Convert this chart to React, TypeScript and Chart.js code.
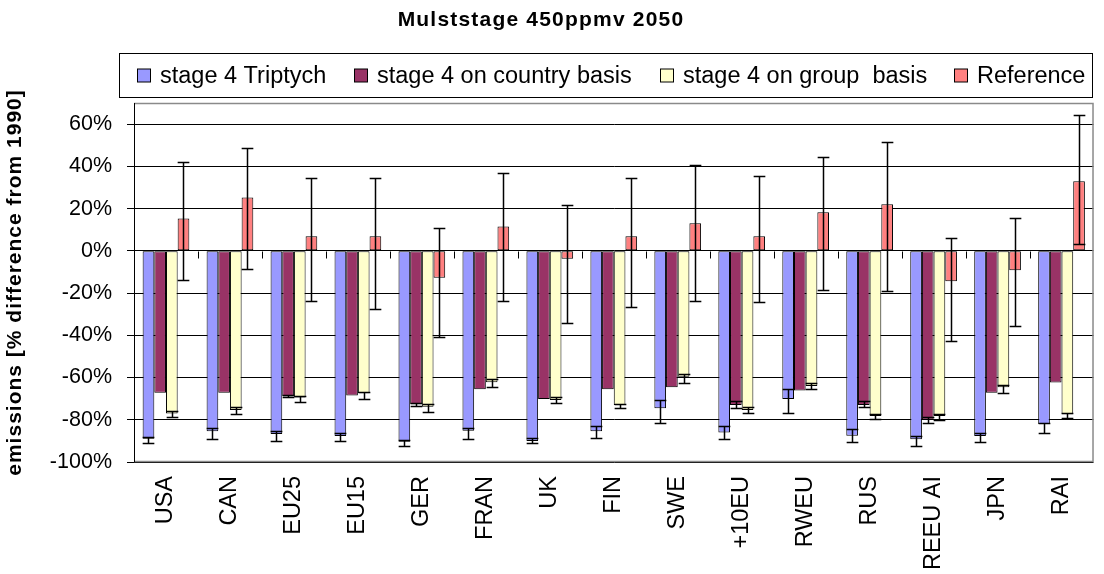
import React, { useEffect, useRef } from 'react';
import { Chart, registerables } from 'chart.js';

Chart.register(...registerables);

const categories = ['USA', 'CAN', 'EU25', 'EU15', 'GER', 'FRAN', 'UK', 'FIN', 'SWE', '+10EU', 'RWEU', 'RUS', 'REEU AI', 'JPN', 'RAI'];

const seriesLabels = ['stage 4 Triptych', 'stage 4 on country basis', 'stage 4 on group  basis', 'Reference'];

const triptych = [-89, -85.4, -86.8, -87.7, -90.4, -85.2, -90, -85.4, -74.6, -86, -70.2, -87.6, -89.2, -87.7, -82];
const triptychLow = [-91.2, -89.2, -90, -90, -92.3, -89.2, -91.2, -88.5, -81.4, -89.2, -77, -90.7, -92.3, -90.7, -86.2];
const triptychHigh = [-88, -83.8, -85.4, -86.2, -89.6, -83.8, -88.5, -83, -70.6, -83, -65.6, -84.6, -87.7, -86.2, -81.4];

const country = [-67.2, -67.2, -68.8, -68.5, -72.7, -65.6, -70.2, -65.6, -64.6, -73, -66.2, -73, -80, -67.2, -62.4];
const countryLow = [null, null, -69.4, null, -73.5, null, null, null, null, -74.5, null, -74, -81.4, null, null];
const countryHigh = [null, null, -68.3, null, -72, null, null, null, null, -71, null, -71, -78.6, null, null];

const group = [-77, -75.4, -69.4, -67.5, -73.8, -62.2, -70.6, -73, -59.6, -75.4, -64, -78.2, -78.2, -64.6, -77.4];
const groupLow = [-78.6, -77.3, -71.7, -70.2, -76.2, -64.6, -72.2, -74.6, -62.4, -77, -65.6, -79.8, -80, -67.2, -79];
const groupHigh = [-76, -73.8, -68.8, -67, -72.7, -60.8, -69.4, -72.5, -58.2, -73.8, -62.5, -77.4, -77.5, -63.5, -77];

const reference = [15.3, 25.2, 6.9, 6.9, -12.8, 11.5, -3.7, 6.9, 13, 6.9, 18.3, 22.1, -14.4, -9.2, 32.9];
const referenceLow = [-13.6, -8.4, -23.6, -27.4, -41, -23.6, -34.2, -26.6, -23.6, -24.4, -18.4, -19.2, -42.6, -35.8, 3];
const referenceHigh = [42.1, 48.9, 34.3, 34.3, 10.7, 36.7, 21.5, 34.3, 40.5, 35.2, 44.3, 51.3, 6.3, 15.5, 64.3];

const yTickValues = [-100, -80, -60, -40, -20, 0, 20, 40, 60];

const FONT = "'Liberation Sans', Arial, Helvetica, sans-serif";
const COLORS = ['#9999FF', '#993366', '#FFFFCC', '#FF8080'];

export default function App() {
  const ref = useRef<HTMLCanvasElement | null>(null);

  useEffect(() => {
    document.body.style.margin = '0';
    const canvas = ref.current;
    if (!canvas) return;

    const values = [triptych, country, group, reference];
    const lows = [triptychLow, countryLow, groupLow, referenceLow];
    const highs = [triptychHigh, countryHigh, groupHigh, referenceHigh];

    const errorBars = {
      id: 'errorBars',
      afterDatasetsDraw(chart: any) {
        const ctx = chart.ctx;
        const y = chart.scales.y;
        ctx.save();
        ctx.strokeStyle = '#000';
        ctx.lineWidth = 1.5;
        chart.data.datasets.forEach((ds: any, i: number) => {
          const meta = chart.getDatasetMeta(i);
          meta.data.forEach((bar: any, j: number) => {
            const lo = lows[i][j];
            const hi = highs[i][j];
            if (lo === null || hi === null || lo === undefined || hi === undefined) return;
            const x = Math.round(bar.x) + 0.5;
            const half = bar.width / 2;
            const yl = Math.round(y.getPixelForValue(lo)) + 0.5;
            const yh = Math.round(y.getPixelForValue(hi)) + 0.5;
            ctx.beginPath();
            ctx.moveTo(x, yl);
            ctx.lineTo(x, yh);
            ctx.moveTo(x - half, yl);
            ctx.lineTo(x + half, yl);
            ctx.moveTo(x - half, yh);
            ctx.lineTo(x + half, yh);
            ctx.stroke();
          });
        });
        ctx.restore();
      },
    };

    const decor = {
      id: 'decor',
      beforeDraw(chart: any) {
        const ctx = chart.ctx;
        ctx.save();
        ctx.fillStyle = '#fff';
        ctx.fillRect(0, 0, chart.width, chart.height);
        ctx.restore();
      },
      afterDraw(chart: any) {
        const ctx = chart.ctx;
        const a = chart.chartArea;
        const y = chart.scales.y;
        ctx.save();

        // plot border (top, right, bottom)
        ctx.strokeStyle = '#8a8a8a';
        ctx.lineWidth = 1.5;
        ctx.beginPath();
        ctx.moveTo(a.left, a.top + 0.5);
        ctx.lineTo(a.right - 0.5, a.top + 0.5);
        ctx.lineTo(a.right - 0.5, a.bottom - 0.5);
        ctx.lineTo(a.left, a.bottom - 0.5);
        ctx.stroke();
        ctx.strokeStyle = '#000';
        ctx.lineWidth = 1;
        ctx.beginPath();
        ctx.moveTo(a.left + 0.5, a.top);
        ctx.lineTo(a.left + 0.5, a.bottom);
        ctx.stroke();

        // category tick marks on the zero line
        const y0 = Math.round(y.getPixelForValue(0)) + 0.5;
        const n = categories.length;
        const step = (a.right - a.left) / n;
        ctx.beginPath();
        for (let k = 1; k < n; k++) {
          const x = Math.round(a.left + k * step) + 0.5;
          ctx.moveTo(x, y0);
          ctx.lineTo(x, y0 + 7);
        }
        ctx.stroke();

        // chart title
        ctx.fillStyle = '#000';
        ctx.font = `bold 21px ${FONT}`;
        (ctx as any).letterSpacing = '1.2px';
        ctx.textAlign = 'center';
        ctx.textBaseline = 'middle';
        ctx.fillText('Mulststage 450ppmv 2050', 541, 20);

        // y axis title
        ctx.save();
        ctx.translate(15, (a.top + a.bottom) / 2);
        ctx.rotate(-Math.PI / 2);
        ctx.font = `bold 21px ${FONT}`;
        (ctx as any).letterSpacing = '1px';
        ctx.fillText('emissions [% difference from 1990]', 0, 0);
        ctx.restore();
        (ctx as any).letterSpacing = '0px';

        // legend
        const lx = 119.5, ly = 53.5, lw = 973, lh = 44;
        ctx.fillStyle = '#fff';
        ctx.fillRect(lx, ly, lw, lh);
        ctx.strokeStyle = '#000';
        ctx.lineWidth = 1;
        ctx.strokeRect(lx, ly, lw, lh);
        const markerX = [137, 354, 660, 954];
        const cy = ly + lh / 2;
        ctx.font = `23.5px ${FONT}`;
        ctx.textAlign = 'left';
        ctx.textBaseline = 'middle';
        seriesLabels.forEach((label, i) => {
          const mx = markerX[i];
          ctx.fillStyle = COLORS[i];
          ctx.fillRect(mx + 0.5, cy - 6.5, 13, 13);
          ctx.strokeStyle = '#000';
          ctx.strokeRect(mx + 0.5, cy - 6.5, 13, 13);
          ctx.fillStyle = '#000';
          ctx.fillText(label, mx + 23, cy + 1);
        });

        ctx.restore();
      },
    };

    const chart = new Chart(canvas, {
      type: 'bar',
      data: {
        labels: categories,
        datasets: seriesLabels.map((label, i) => ({
          label,
          data: values[i],
          backgroundColor: COLORS[i],
          borderColor: '#000',
          borderWidth: 1,
          borderSkipped: false,
          categoryPercentage: 0.73,
          barPercentage: 1.0,
        })),
      },
      options: {
        responsive: false,
        animation: false,
        devicePixelRatio: 1,
        layout: { padding: { top: 103, right: 8, left: 0, bottom: 0 } },
        plugins: {
          legend: { display: false },
          title: { display: false },
          tooltip: { enabled: false },
        },
        scales: {
          x: {
            type: 'category',
            offset: true,
            grid: { display: false, drawTicks: false },
            border: { display: false },
            ticks: {
              autoSkip: false,
              minRotation: 90,
              maxRotation: 90,
              padding: 14,
              color: '#000',
              font: { family: FONT, size: 23.5 },
            },
            afterFit: (scale: any) => {
              scale.height = 112;
            },
          },
          y: {
            min: -100,
            max: 70,
            ticks: {
              stepSize: 20,
              padding: 15,
              color: '#000',
              font: { family: FONT, size: 21.5 },
              callback: (v: any) => `${v}%`,
            },
            afterBuildTicks: (scale: any) => {
              scale.ticks = yTickValues.map((v) => ({ value: v }));
            },
            grid: { color: '#000', lineWidth: 1, tickLength: 7, drawTicks: true },
            border: { display: true, color: '#000', width: 1 },
            afterFit: (scale: any) => {
              scale.width = 134;
            },
          },
        },
      },
      plugins: [decor, errorBars],
    } as any);

    return () => chart.destroy();
  }, []);

  return (
    <div style={{ position: 'absolute', left: 0, top: 0, width: 1104, height: 574 }}>
      <canvas ref={ref} width={1104} height={574} style={{ display: 'block', width: 1104, height: 574 }} />
    </div>
  );
}
